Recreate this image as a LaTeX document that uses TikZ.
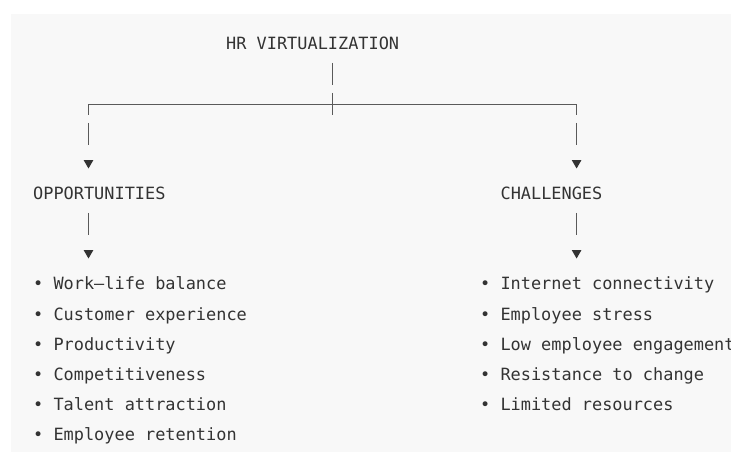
\documentclass[tikz,border=0pt]{standalone}
\usepackage{fontspec}
\setmonofont{DejaVu Sans Mono}
\usetikzlibrary{shapes.geometric}
\definecolor{panelgray}{HTML}{F8F8F8}
\definecolor{inkgray}{HTML}{333333}
\definecolor{wiregray}{HTML}{5A5A5A}

\begin{document}
\begin{tikzpicture}[x=1pt, y=-1pt,
    mono/.style={font=\ttfamily\fontsize{16.9}{20}\selectfont, text=inkgray,
      inner sep=0pt, anchor=base west},
    wire/.style={wiregray, line width=1.1pt},
    tri/.style={regular polygon, regular polygon sides=3, shape border rotate=180,
      fill=inkgray, inner sep=0pt, minimum size=11pt}]
  \useasboundingbox (0,0) rectangle (731,454);
  % Panel
  \fill[panelgray] (11,14) rectangle (731,452);
  % Titles
  \node[mono] (hr) at (226,50) {HR VIRTUALIZATION};
  \node[mono] (opp) at (33,200) {OPPORTUNITIES};
  \node[mono] (chal) at (500.4,200) {CHALLENGES};
  % Junctions
  \coordinate (jn) at (332.7,104.5);
  \coordinate (lc) at (88.5,104.5);
  \coordinate (rc) at (576.6,104.5);
  % Arrow heads
  \node[tri] (ta) at (88.5,163) {};
  \node[tri] (tb) at (576.6,163) {};
  \node[tri] (tc) at (88.5,253) {};
  \node[tri] (td) at (576.6,253) {};
  % Branches
  \draw[wire] (jn) ++(0,-41.5) -- ++(0,22);
  \draw[wire] (jn) ++(0,-11.5) -- ++(0,22);
  \draw[wire] (lc) ++(0,10.5) -- (lc) -- (rc) -- ++(0,10.5);
  \foreach \t in {ta,tb,tc,td}
    \draw[wire] (\t) ++(0,-40) -- ++(0,22);
  % Lists
  \foreach \txt [count=\i] in {Work–life balance, Customer experience,
      Productivity, Competitiveness, Talent attraction, Employee retention}
    \node[mono] (opp\i) at (33,{260+30*\i}) {• \txt};
  \foreach \txt [count=\i] in {Internet connectivity, Employee stress,
      Low employee engagement, Resistance to change, Limited resources}
    \node[mono] (chal\i) at (480,{260+30*\i}) {• \txt};
\end{tikzpicture}
\end{document}
